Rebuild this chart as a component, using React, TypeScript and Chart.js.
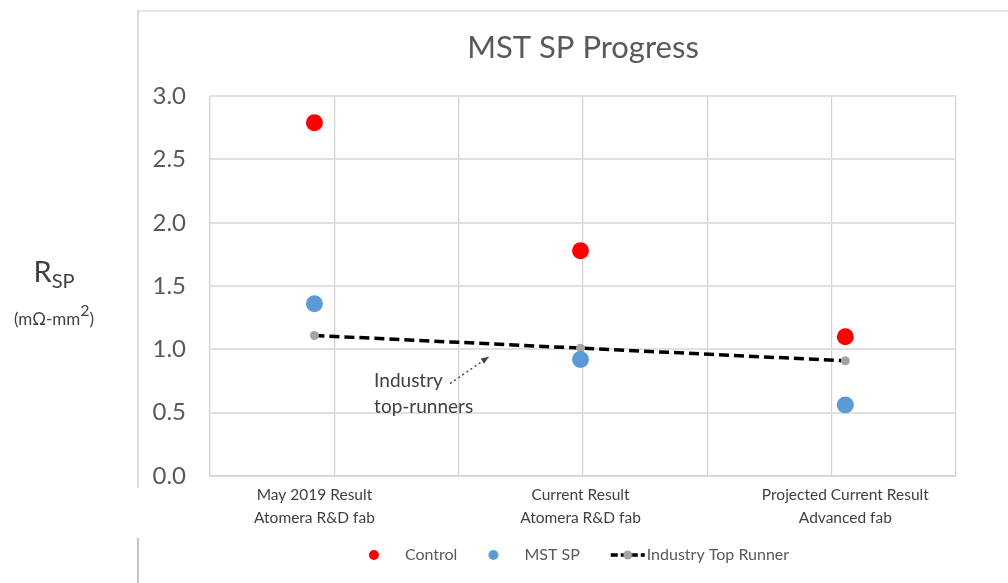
import React, { useEffect, useRef } from "react";
import { Chart, registerables } from "chart.js";

Chart.register(...registerables);

// ---- data ----
const categoryLabels: string[][] = [
  ["May 2019 Result", "Atomera R&D fab"],
  ["Current Result", "Atomera R&D fab"],
  ["Projected Current Result", "Advanced fab"],
];
const categoryX = [0.84, 2.98, 5.11];
const controlValues = [2.79, 1.78, 1.1];
const mstSpValues = [1.36, 0.92, 0.56];
const industryValues = [1.11, 1.01, 0.91];
const seriesNames = ["Control", "MST SP", "Industry Top Runner"];
const yTickMin = 0;
const yTickMax = 3;
const yTickStep = 0.5;
const xGridMin = 0;
const xGridMax = 6;
const annotationLines = ["Industry", "top-runners"];

const FONT = "Lato, 'Open Sans', sans-serif";
const RED = "#FF0000";
const BLUE = "#5B9BD5";
const GRAY = "#A5A5A5";
const TEXT = "#595959";

function makeIcon(kind: "red" | "blue" | "line"): HTMLCanvasElement {
  const c = document.createElement("canvas");
  c.width = 44;
  c.height = 16;
  const ctx = c.getContext("2d")!;
  if (kind === "line") {
    ctx.strokeStyle = "#000";
    ctx.lineWidth = 3.5;
    ctx.setLineDash([7, 3]);
    ctx.beginPath();
    ctx.moveTo(4, 8);
    ctx.lineTo(38, 8);
    ctx.stroke();
    ctx.fillStyle = GRAY;
    ctx.beginPath();
    ctx.arc(21, 8, 4.5, 0, Math.PI * 2);
    ctx.fill();
  } else {
    ctx.fillStyle = kind === "red" ? RED : BLUE;
    ctx.beginPath();
    ctx.arc(9, 8, 5, 0, Math.PI * 2);
    ctx.fill();
  }
  return c;
}

const layoutFixPlugin = {
  id: "labelRoom",
  afterLayout(chart: any) {
    const s = chart.scales.xLabels;
    if (s) s.bottom = s.top + 70;
  },
};

const annotationPlugin = {
  id: "topRunnerNote",
  afterDraw(chart: any) {
    const { ctx, scales } = chart;
    const x = scales.x;
    const y = scales.y;
    ctx.save();
    ctx.font = `19px ${FONT}`;
    ctx.fillStyle = "#404040";
    ctx.textBaseline = "middle";
    ctx.textAlign = "left";
    ctx.fillText(annotationLines[0], x.getPixelForValue(1.32), y.getPixelForValue(0.75));
    ctx.fillText(annotationLines[1], x.getPixelForValue(1.32), y.getPixelForValue(0.545));
    // dotted arrow
    const x0 = x.getPixelForValue(1.93), y0 = y.getPixelForValue(0.73);
    const x1 = x.getPixelForValue(2.24), y1 = y.getPixelForValue(0.94);
    ctx.strokeStyle = "#404040";
    ctx.lineWidth = 1.4;
    ctx.setLineDash([2, 3]);
    ctx.beginPath();
    ctx.moveTo(x0, y0);
    ctx.lineTo(x1, y1);
    ctx.stroke();
    ctx.setLineDash([]);
    const ang = Math.atan2(y1 - y0, x1 - x0);
    const len = 8;
    ctx.fillStyle = "#404040";
    ctx.beginPath();
    ctx.moveTo(x1, y1);
    ctx.lineTo(x1 - len * Math.cos(ang - 0.4), y1 - len * Math.sin(ang - 0.4));
    ctx.lineTo(x1 - len * Math.cos(ang + 0.4), y1 - len * Math.sin(ang + 0.4));
    ctx.closePath();
    ctx.fill();
    ctx.restore();
  },
};

export default function App() {
  const ref = useRef<HTMLCanvasElement | null>(null);

  useEffect(() => {
    if (!ref.current) return;
    const icons = [makeIcon("red"), makeIcon("blue"), makeIcon("line")];
    const toPts = (vals: number[]) => vals.map((v, i) => ({ x: categoryX[i], y: v }));
    const chart = new Chart(ref.current, {
      type: "scatter",
      data: {
        datasets: [
          {
            label: seriesNames[0],
            data: toPts(controlValues),
            backgroundColor: RED,
            borderColor: RED,
            pointRadius: 8.5,
            pointBorderWidth: 0,
            showLine: false,
          },
          {
            label: seriesNames[1],
            data: toPts(mstSpValues),
            backgroundColor: BLUE,
            borderColor: BLUE,
            pointRadius: 8.5,
            pointBorderWidth: 0,
            showLine: false,
          },
          {
            label: seriesNames[2],
            data: toPts(industryValues),
            backgroundColor: GRAY,
            pointBackgroundColor: GRAY,
            pointBorderColor: GRAY,
            borderColor: "#000000",
            borderWidth: 3.5,
            borderDash: [10, 5],
            pointRadius: 4.5,
            pointBorderWidth: 0,
            showLine: true,
          } as any,
        ],
      },
      options: {
        animation: false,
        responsive: false,
        devicePixelRatio: 1,
        layout: { padding: { left: 150, right: 52, top: 0, bottom: 10 } },
        plugins: {
          tooltip: { enabled: false },
          title: {
            display: true,
            text: "MST SP Progress",
            fullSize: false,
            color: TEXT,
            font: { family: FONT, size: 31, weight: "normal" },
            padding: { top: 29, bottom: 30 },
          } as any,
          legend: {
            display: true,
            position: "bottom",
            fullSize: false,
            labels: {
              usePointStyle: true,
              pointStyleWidth: 20,
              padding: 39,
              color: TEXT,
              font: { family: FONT, size: 16 },
              generateLabels: () =>
                seriesNames.map((name, i) => ({
                  text: name,
                  pointStyle: icons[i],
                  fillStyle: "transparent",
                  strokeStyle: "transparent",
                  lineWidth: 0,
                  hidden: false,
                  datasetIndex: i,
                  fontColor: TEXT,
                })),
            },
          } as any,
        },
        scales: {
          x: {
            type: "linear",
            position: "bottom",
            min: xGridMin,
            max: xGridMax,
            ticks: { display: false, stepSize: 1 },
            grid: { color: "#d2d2d2", lineWidth: 1.2, drawTicks: false },
            border: { display: true, color: "#d2d2d2", width: 1.2 },
            afterFit: (s: any) => {
              s.height = 0;
            },
          },
          xLabels: {
            type: "linear",
            position: "bottom",
            min: xGridMin,
            max: xGridMax,
            grid: { display: false, drawTicks: false },
            border: { display: false },
            afterBuildTicks: (s: any) => {
              s.ticks = categoryX.map((v) => ({ value: v }));
            },
            ticks: {
              autoSkip: false,
              maxRotation: 0,
              padding: 8,
              color: "#404040",
              font: { family: FONT, size: 15.5, lineHeight: 1.45 },
              callback: (_v: any, i: number) => categoryLabels[i],
            },
            afterFit: (s: any) => {
              s.height = 32;
            },
          } as any,
          y: {
            min: yTickMin,
            max: yTickMax,
            ticks: {
              stepSize: yTickStep,
              padding: 24,
              color: TEXT,
              font: { family: FONT, size: 24 },
              callback: (v: any) => Number(v).toFixed(1),
            },
            grid: { color: "#e0e0e0", lineWidth: 2, drawTicks: false },
            border: { display: true, color: "#d2d2d2", width: 1.2 },
            afterFit: (s: any) => {
              s.width = 60;
            },
          },
        },
      },
      plugins: [layoutFixPlugin, annotationPlugin],
    });
    return () => chart.destroy();
  }, []);

  return (
    <div
      style={{
        position: "absolute",
        left: 0,
        top: 0,
        width: 1008,
        height: 583,
        background: "#ffffff",
        overflow: "hidden",
        fontFamily: FONT,
      }}
    >
      <div style={{ position: "absolute", left: 138, top: 10, width: 870, height: 0, borderTop: "2px solid #e6e6e6" }} />
      <div style={{ position: "absolute", left: 137, top: 10, width: 0, height: 478, borderLeft: "2px solid #dcdcdc" }} />
      <div style={{ position: "absolute", left: 137, top: 538, width: 0, height: 45, borderLeft: "2px solid #c4c4c4" }} />
      <canvas ref={ref} width={1008} height={583} style={{ position: "absolute", left: 0, top: 0 }} />
      <div
        style={{
          position: "absolute",
          left: 0,
          top: 256,
          width: 108,
          textAlign: "center",
          color: "#404040",
          lineHeight: 1,
        }}
      >
        <div style={{ fontSize: 29 }}>
          R<sub style={{ fontSize: 20, verticalAlign: "-6px" }}>SP</sub>
        </div>
        <div style={{ fontSize: 17, marginTop: 12 }}>
          (mΩ-mm<sup style={{ fontSize: 16, verticalAlign: "9px" }}>2</sup>)
        </div>
      </div>
    </div>
  );
}
